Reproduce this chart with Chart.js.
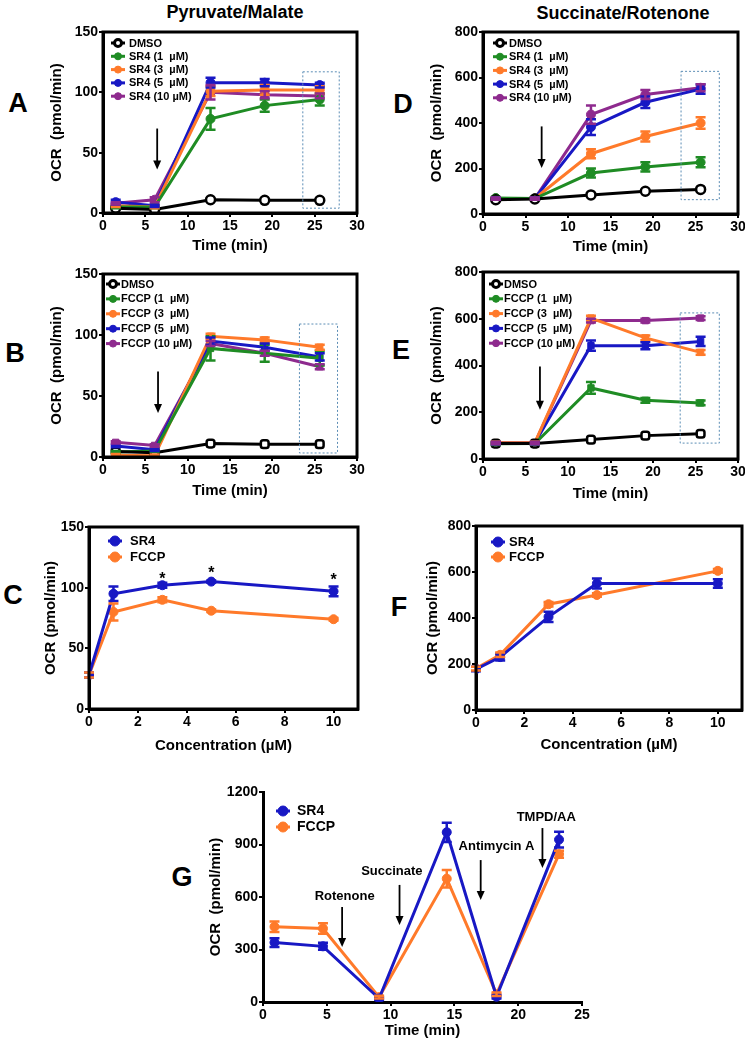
<!DOCTYPE html>
<html lang="en">
<head>
<meta charset="UTF-8">
<title>OCR panels</title>
<script src="https://cdn.jsdelivr.net/npm/chart.js"></script>
<style>
  body { margin: 0; background: #fff; }
  #page { position: relative; width: 745px; height: 1043px; overflow: hidden;
          font-family: "Liberation Sans", Arial, sans-serif; font-weight: bold; color: #000; }
  #page canvas { position: absolute; }
  .lbl { position: absolute; transform: translate(-50%, -50%); line-height: 1; white-space: nowrap; }
  .letter { font-size: 27px; }
  .head { font-size: 18px; }
</style>
</head>
<body>
<div id="page">
  <div class="lbl head" style="left:235px;top:12px">Pyruvate/Malate</div>
  <div class="lbl head" style="left:623px;top:13px">Succinate/Rotenone</div>
  <div class="lbl letter" style="left:18px;top:103px">A</div>
  <div class="lbl letter" style="left:403px;top:104px">D</div>
  <div class="lbl letter" style="left:15px;top:353px">B</div>
  <div class="lbl letter" style="left:401px;top:350px">E</div>
  <div class="lbl letter" style="left:13px;top:595px">C</div>
  <div class="lbl letter" style="left:399px;top:607px">F</div>
  <div class="lbl letter" style="left:182px;top:877px">G</div>
</div>

<script>
// ---- data ----
const timePoints = [1.5, 6.1, 12.7, 19.1, 25.6];

// A: Pyruvate/Malate, SR4
const dmsoA  = [4, 3, 11, 10.5, 10.5];
const sr4_1A = [5, 5, 78, 89, 94];
const sr4_3A = [6, 5, 101, 102, 102];
const sr4_5A = [9, 6, 108, 108, 106];
const sr4_10A = [8, 11, 100, 98, 97];
const errA = { dmso: [0, 0, 0, 0, 0], s1: [1, 1, 9, 5, 5], s3: [1, 1, 4, 4, 3], s5: [2, 1, 4, 3, 2], s10: [1, 2, 6, 3, 2] };

// D: Succinate/Rotenone, SR4
const dmsoD  = [63, 66, 84, 100, 108];
const sr4_1D = [70, 68, 180, 207, 227];
const sr4_3D = [68, 68, 265, 341, 400];
const sr4_5D = [68, 68, 382, 491, 549];
const sr4_10D = [68, 68, 437, 525, 555];
const errD = { dmso: [0, 0, 0, 0, 0], s1: [5, 5, 20, 20, 22], s3: [5, 5, 20, 22, 25], s5: [5, 5, 35, 25, 20], s10: [5, 5, 40, 20, 15] };

// B: Pyruvate/Malate, FCCP
const dmsoB   = [4.5, 3.5, 11, 10.5, 10.5];
const fccp1B  = [4, 5, 89, 85, 81];
const fccp3B  = [1.5, 1, 99, 96, 90];
const fccp5B  = [9, 6, 95, 90, 82];
const fccp10B = [12, 9.5, 93, 85, 74];
const errB = { dmso: [0, 0, 0, 0, 0], s1: [1, 1, 10, 7, 6], s3: [1, 1, 2, 2, 2], s5: [1, 1, 3, 3, 3], s10: [1, 1, 2, 2, 2] };

// E: Succinate/Rotenone, FCCP
const dmsoE   = [66, 66, 83, 100, 108];
const fccp1E  = [65, 66, 304, 251, 240];
const fccp3E  = [70, 70, 603, 518, 456];
const fccp5E  = [68, 68, 485, 485, 503];
const fccp10E = [68, 68, 592, 592, 603];
const errE = { dmso: [0, 0, 0, 0, 0], s1: [5, 5, 25, 10, 10], s3: [5, 5, 10, 10, 10], s5: [5, 5, 22, 15, 20], s10: [5, 5, 8, 8, 8] };

// C / F: concentration response
const concentrations = [0, 1, 3, 5, 10];
const sr4C  = [28, 95, 102, 105, 97];
const fccpC = [28, 80, 90, 81, 74];
const sr4CErr  = [2, 6, 2, 1, 4];
const fccpCErr = [2, 7, 2, 1, 1];
const sr4F  = [178, 230, 405, 550, 550];
const fccpF = [180, 240, 460, 500, 605];
const sr4FErr  = [10, 15, 22, 22, 18];
const fccpFErr = [8, 10, 10, 8, 8];

// G: sequential injections
const timeG = [0.9, 4.7, 9.1, 14.4, 18.3, 23.2];
const sr4G  = [340, 318, 20, 970, 30, 928];
const fccpG = [430, 420, 28, 705, 45, 845];
const sr4GErr  = [25, 20, 8, 55, 10, 45];
const fccpGErr = [30, 30, 8, 50, 10, 20];

const xTicksTime = [0, 5, 10, 15, 20, 25, 30];

// ---- styles ----
const FONT = '"Liberation Sans", Arial, sans-serif';
const GREEN = '#1f8c24', ORANGE = '#ff7a2a', BLUE = '#1818c4', PURPLE = '#8e2a8e', BLACK = '#000';

Chart.defaults.font.family = FONT;
Chart.defaults.font.weight = 'bold';
Chart.defaults.color = '#000';

function pts(xs, ys) { return xs.map((x, i) => ({ x: x, y: ys[i] })); }

function series(label, xs, ys, errs, color, hollow, shape) {
  return {
    label: label,
    data: pts(xs, ys),
    errs: errs,
    borderColor: color,
    borderWidth: 3,
    tension: 0,
    pointStyle: shape || 'circle',
    pointRadius: 4.5,
    pointBackgroundColor: hollow ? '#fff' : color,
    pointBorderColor: color,
    pointBorderWidth: hollow ? 2.5 : 1
  };
}

// error bars, box, inner legend, arrows, dotted boxes, notes
const extras = {
  id: 'extras',
  afterDatasetsDraw(chart) {
    const ctx = chart.ctx, xs = chart.scales.x, ys = chart.scales.y;
    chart.data.datasets.forEach((ds) => {
      if (!ds.errs) return;
      ctx.save();
      ctx.strokeStyle = ds.borderColor;
      ctx.lineWidth = 2.5;
      ds.data.forEach((p, j) => {
        const e = ds.errs[j];
        if (!e) return;
        const x = xs.getPixelForValue(p.x);
        const y1 = ys.getPixelForValue(p.y - e), y2 = ys.getPixelForValue(p.y + e);
        ctx.beginPath();
        ctx.moveTo(x, y1); ctx.lineTo(x, y2);
        ctx.moveTo(x - 5, y1); ctx.lineTo(x + 5, y1);
        ctx.moveTo(x - 5, y2); ctx.lineTo(x + 5, y2);
        ctx.stroke();
      });
      ctx.restore();
    });
  },
  afterDraw(chart, args, o) {
    const ctx = chart.ctx, ca = chart.chartArea, xs = chart.scales.x, ys = chart.scales.y;
    ctx.save();
    if (o.box) {
      ctx.strokeStyle = '#000';
      ctx.lineWidth = 3;
      ctx.strokeRect(ca.left, ca.top, ca.right - ca.left, ca.bottom - ca.top);
    }
    (o.rects || []).forEach(r => {
      const x1 = xs.getPixelForValue(r[0]), y1 = ys.getPixelForValue(r[1]);
      const x2 = xs.getPixelForValue(r[2]), y2 = ys.getPixelForValue(r[3]);
      ctx.strokeStyle = '#5b8db5';
      ctx.lineWidth = 1;
      ctx.setLineDash([2, 2]);
      ctx.strokeRect(x1, y2, x2 - x1, y1 - y2);
      ctx.setLineDash([]);
    });
    (o.arrows || []).forEach(a => {
      const x = xs.getPixelForValue(a[0]), yt = ys.getPixelForValue(a[1]), yb = ys.getPixelForValue(a[2]);
      ctx.strokeStyle = '#000';
      ctx.fillStyle = '#000';
      ctx.lineWidth = 1.8;
      ctx.beginPath(); ctx.moveTo(x, yt); ctx.lineTo(x, yb - 7); ctx.stroke();
      ctx.beginPath(); ctx.moveTo(x - 4, yb - 9); ctx.lineTo(x + 4, yb - 9); ctx.lineTo(x, yb); ctx.closePath(); ctx.fill();
    });
    (o.notes || []).forEach(n => {
      ctx.font = 'bold ' + n[3] + 'px ' + FONT;
      ctx.fillStyle = '#000';
      ctx.textAlign = 'center';
      ctx.textBaseline = 'middle';
      ctx.fillText(n[0], xs.getPixelForValue(n[1]), ys.getPixelForValue(n[2]));
    });
    const lg = o.legend;
    if (lg) {
      ctx.font = 'bold ' + lg.size + 'px ' + FONT;
      ctx.textAlign = 'left';
      ctx.textBaseline = 'middle';
      chart.data.datasets.forEach((ds, i) => {
        const cx = ca.left + lg.dx, cy = ca.top + lg.dy + i * lg.step;
        ctx.strokeStyle = ds.borderColor;
        ctx.lineWidth = 3;
        ctx.beginPath(); ctx.moveTo(cx - 7, cy); ctx.lineTo(cx + 7, cy); ctx.stroke();
        ctx.beginPath(); ctx.arc(cx, cy, lg.r, 0, Math.PI * 2);
        ctx.fillStyle = ds.pointBackgroundColor; ctx.fill();
        ctx.lineWidth = ds.pointBorderWidth > 1 ? 3 : 1; ctx.strokeStyle = ds.pointBorderColor; ctx.stroke();
        ctx.fillStyle = '#000';
        ctx.fillText(ds.label, cx + lg.tx, cy + 0.5);
      });
    }
    ctx.restore();
  }
};

// g: plot rect (l,t,r,b) + centres of y title (ytx) and x title (xty)
function panel(g, datasets, sc) {
  const lh = 18;
  const left = Math.round(g.ytx - lh / 2), bottom = Math.round(g.xty + lh / 2);
  const top = g.t - 10, right = g.r + 14;
  const cv = document.createElement('canvas');
  cv.width = right - left;
  cv.height = bottom - top;
  cv.style.left = left + 'px';
  cv.style.top = top + 'px';
  document.getElementById('page').appendChild(cv);
  const yW = g.l - left, xH = bottom - g.b;
  const tickFont = { size: 14, weight: 'bold' };
  const titleFont = { size: 15, weight: 'bold' };

  new Chart(cv, {
    type: 'line',
    data: { datasets: datasets },
    plugins: [extras],
    options: {
      responsive: false,
      animation: false,
      events: [],
      layout: { padding: { top: 10, right: 14, left: 0, bottom: 0 } },
      plugins: {
        legend: { display: false },
        tooltip: { enabled: false },
        extras: sc.extras
      },
      scales: {
        x: {
          type: 'linear',
          min: sc.xMin, max: sc.xMax,
          afterFit: s => { s.height = xH; },
          afterBuildTicks: s => { s.ticks = sc.xTicks.map(v => ({ value: v })); },
          ticks: { font: tickFont, color: '#000', padding: 1, maxRotation: 0, autoSkip: false,
                   callback: v => String(v) },
          grid: { display: true, drawOnChartArea: false, drawTicks: true, tickLength: 4, color: '#000', lineWidth: 2 },
          border: { display: true, color: '#000', width: 3 },
          title: { display: true, text: sc.xTitle, font: titleFont, color: '#000', padding: 0 }
        },
        y: {
          min: 0, max: sc.yMax,
          afterFit: s => { s.width = yW; },
          ticks: { stepSize: sc.yStep, font: tickFont, color: '#000', padding: 1,
                   callback: v => String(v) },
          grid: { display: true, drawOnChartArea: false, drawTicks: true, tickLength: 4, color: '#000', lineWidth: 2 },
          border: { display: true, color: '#000', width: 3 },
          title: { display: true, text: sc.yTitle, font: titleFont, color: '#000', padding: 0 }
        }
      }
    }
  });
}

const mu = '\u00b5';

// A
panel({ l: 103, t: 32, r: 357, b: 213, ytx: 57, xty: 246 }, [
  series('DMSO', timePoints, dmsoA, errA.dmso, BLACK, true),
  series('SR4 (1  ' + mu + 'M)', timePoints, sr4_1A, errA.s1, GREEN),
  series('SR4 (3  ' + mu + 'M)', timePoints, sr4_3A, errA.s3, ORANGE),
  series('SR4 (5  ' + mu + 'M)', timePoints, sr4_5A, errA.s5, BLUE),
  series('SR4 (10 ' + mu + 'M)', timePoints, sr4_10A, errA.s10, PURPLE)
], {
  xMin: 0, xMax: 30, xTicks: xTicksTime, yMax: 150, yStep: 50,
  xTitle: 'Time (min)', yTitle: 'OCR  (pmol/min)',
  extras: { box: true, rects: [[23.6, 4, 27.9, 117]], arrows: [[6.4, 70, 36]],
            legend: { dx: 15, dy: 11, step: 13.3, size: 11, r: 3.5, tx: 11 } }
});

// D
panel({ l: 483, t: 32, r: 738, b: 214, ytx: 437, xty: 247 }, [
  series('DMSO', timePoints, dmsoD, errD.dmso, BLACK, true),
  series('SR4 (1  ' + mu + 'M)', timePoints, sr4_1D, errD.s1, GREEN),
  series('SR4 (3  ' + mu + 'M)', timePoints, sr4_3D, errD.s3, ORANGE),
  series('SR4 (5  ' + mu + 'M)', timePoints, sr4_5D, errD.s5, BLUE),
  series('SR4 (10 ' + mu + 'M)', timePoints, sr4_10D, errD.s10, PURPLE)
], {
  xMin: 0, xMax: 30, xTicks: xTicksTime, yMax: 800, yStep: 200,
  xTitle: 'Time (min)', yTitle: 'OCR  (pmol/min)',
  extras: { box: true, rects: [[23.3, 63, 27.8, 627]], arrows: [[6.9, 385, 202]],
            legend: { dx: 17, dy: 11, step: 13.7, size: 11, r: 3.5, tx: 9 } }
});

// B
panel({ l: 103, t: 274, r: 357, b: 457, ytx: 57, xty: 491 }, [
  series('DMSO', timePoints, dmsoB, errB.dmso, BLACK, true, 'rectRounded'),
  series('FCCP (1  ' + mu + 'M)', timePoints, fccp1B, errB.s1, GREEN, false, 'rect'),
  series('FCCP (3  ' + mu + 'M)', timePoints, fccp3B, errB.s3, ORANGE, false, 'rect'),
  series('FCCP (5  ' + mu + 'M)', timePoints, fccp5B, errB.s5, BLUE, false, 'rect'),
  series('FCCP (10 ' + mu + 'M)', timePoints, fccp10B, errB.s10, PURPLE, false, 'rect')
], {
  xMin: 0, xMax: 30, xTicks: xTicksTime, yMax: 150, yStep: 50,
  xTitle: 'Time (min)', yTitle: 'OCR  (pmol/min)',
  extras: { box: true, rects: [[23.2, 3.3, 27.7, 109]], arrows: [[6.5, 70, 36]],
            legend: { dx: 10, dy: 10, step: 14.9, size: 11, r: 3.5, tx: 8 } }
});

// E
panel({ l: 483, t: 272, r: 738, b: 459, ytx: 437, xty: 494 }, [
  series('DMSO', timePoints, dmsoE, errE.dmso, BLACK, true, 'rectRounded'),
  series('FCCP (1  ' + mu + 'M)', timePoints, fccp1E, errE.s1, GREEN, false, 'rect'),
  series('FCCP (3  ' + mu + 'M)', timePoints, fccp3E, errE.s3, ORANGE, false, 'rect'),
  series('FCCP (5  ' + mu + 'M)', timePoints, fccp5E, errE.s5, BLUE, false, 'rect'),
  series('FCCP (10 ' + mu + 'M)', timePoints, fccp10E, errE.s10, PURPLE, false, 'rect')
], {
  xMin: 0, xMax: 30, xTicks: xTicksTime, yMax: 800, yStep: 200,
  xTitle: 'Time (min)', yTitle: 'OCR  (pmol/min)',
  extras: { box: true, rects: [[23.2, 68, 27.8, 625]], arrows: [[6.7, 396, 211]],
            legend: { dx: 13, dy: 12, step: 14.8, size: 11, r: 3.5, tx: 8 } }
});

// C
panel({ l: 89, t: 527, r: 358, b: 709, ytx: 51, xty: 746 }, [
  series('SR4', concentrations, sr4C, sr4CErr, BLUE),
  series('FCCP', concentrations, fccpC, fccpCErr, ORANGE)
], {
  xMin: 0, xMax: 11, xTicks: [0, 2, 4, 6, 8, 10], yMax: 150, yStep: 50,
  xTitle: 'Concentration (' + mu + 'M)', yTitle: 'OCR (pmol/min)',
  extras: { box: true, notes: [['*', 3, 106.5, 16], ['*', 5, 111.5, 16], ['*', 10, 106, 16]],
            legend: { dx: 26, dy: 14, step: 16, size: 13, r: 5, tx: 15 } }
});

// F
panel({ l: 476, t: 526, r: 742, b: 710, ytx: 433, xty: 745 }, [
  series('SR4', concentrations, sr4F, sr4FErr, BLUE),
  series('FCCP', concentrations, fccpF, fccpFErr, ORANGE)
], {
  xMin: 0, xMax: 11, xTicks: [0, 2, 4, 6, 8, 10], yMax: 800, yStep: 200,
  xTitle: 'Concentration (' + mu + 'M)', yTitle: 'OCR (pmol/min)',
  extras: { box: true, legend: { dx: 22, dy: 16, step: 15, size: 13, r: 5, tx: 11 } }
});

// G
panel({ l: 263, t: 792, r: 582, b: 1002, ytx: 216, xty: 1031 }, [
  series('SR4', timeG, sr4G, sr4GErr, BLUE),
  series('FCCP', timeG, fccpG, fccpGErr, ORANGE)
], {
  xMin: 0, xMax: 25, xTicks: [0, 5, 10, 15, 20, 25], yMax: 1200, yStep: 300,
  xTitle: 'Time (min)', yTitle: 'OCR  (pmol/min)',
  extras: {
    box: false,
    arrows: [[6.2, 543, 314], [10.7, 669, 440], [17.06, 811, 583], [21.9, 994, 766]],
    notes: [['Rotenone', 6.4, 606, 13], ['Succinate', 10.1, 749, 13], ['Antimycin A', 18.3, 891, 13], ['TMPD/AA', 22.2, 1057, 13]],
    legend: { dx: 20, dy: 19, step: 16, size: 14, r: 5, tx: 14 }
  }
});
</script>
</body>
</html>
